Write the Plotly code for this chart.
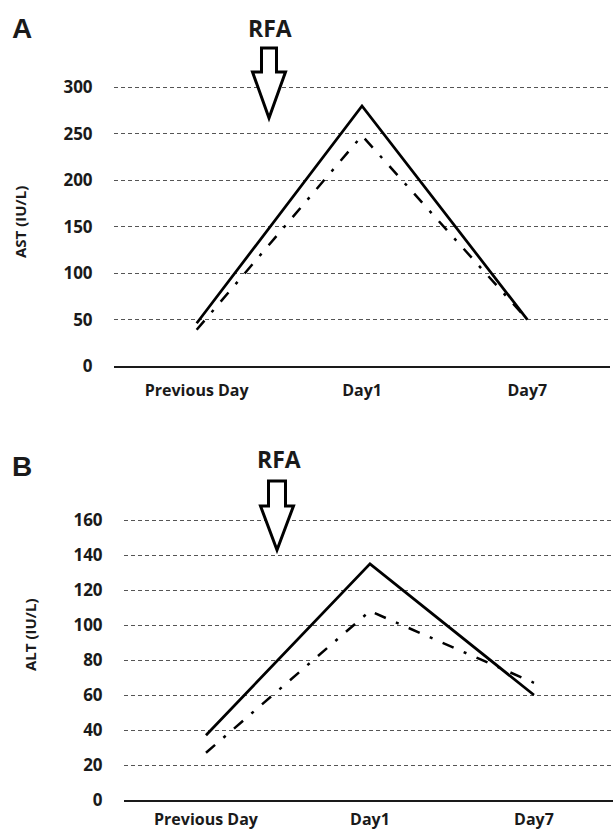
import plotly.graph_objects as go

# ---- data ----
categories = ["Previous Day", "Day1", "Day7"]
ast_solid = [46, 280, 50]
ast_dashdot = [39, 248, 50]
alt_solid = [37, 135, 60]
alt_dashdot = [27, 108, 67]
ast_ticks = [0, 50, 100, 150, 200, 250, 300]
alt_ticks = [0, 20, 40, 60, 80, 100, 120, 140, 160]

W, H = 613, 833
def px(x):
    return x / W
def py(y):
    return 1 - y / H

FONT = "Open Sans"
XTICKFONT = dict(family=FONT, size=16, color="#1a1a1a", weight="bold")
YTICKFONT = dict(family=FONT, size=17, color="#1a1a1a", weight="bold")
DASHDOT = "12px,11px,3px,11px"

fig = go.Figure()
fig.add_trace(go.Scatter(x=categories, y=ast_solid, mode="lines",
                         line=dict(color="black", width=2.75), xaxis="x", yaxis="y", showlegend=False))
fig.add_trace(go.Scatter(x=categories, y=ast_dashdot, mode="lines",
                         line=dict(color="black", width=2.5, dash=DASHDOT), xaxis="x", yaxis="y", showlegend=False))
fig.add_trace(go.Scatter(x=categories, y=alt_solid, mode="lines",
                         line=dict(color="black", width=2.75), xaxis="x2", yaxis="y2", showlegend=False))
fig.add_trace(go.Scatter(x=categories, y=alt_dashdot, mode="lines",
                         line=dict(color="black", width=2.5, dash=DASHDOT), xaxis="x2", yaxis="y2", showlegend=False))

xcommon = dict(type="category", showgrid=False, zeroline=False, showline=True,
               linecolor="#1a1a1a", linewidth=2, ticks="outside",
               tickcolor="rgba(0,0,0,0)", tickfont=XTICKFONT, fixedrange=True,
               automargin=False)
ycommon = dict(showgrid=True, gridcolor="#555555", gridwidth=1, griddash="4px,3px",
               zeroline=False, showline=False, ticks="outside", ticklen=17,
               tickcolor="rgba(0,0,0,0)", tickfont=YTICKFONT, fixedrange=True,
               automargin=False)

fig.update_layout(
    template="none",
    width=W, height=H, autosize=False,
    margin=dict(l=0, r=0, t=0, b=0, pad=0),
    paper_bgcolor="white", plot_bgcolor="white",
    xaxis=dict(**xcommon, ticklen=9, domain=[px(114), px(610)], range=[-0.5, 2.5], anchor="y"),
    yaxis=dict(**ycommon, domain=[py(366), py(86)], range=[0, 301.5],
               tickvals=ast_ticks, anchor="x"),
    xaxis2=dict(**xcommon, ticklen=4, domain=[px(124), 1], range=[-0.5, 2.482], anchor="y2"),
    yaxis2=dict(**ycommon, domain=[py(800), py(518)], range=[0, 161.2],
                tickvals=alt_ticks, anchor="x2"),
)

def label(text, x, y, size, family=FONT, angle=0):
    return dict(text=text, x=px(x), y=py(y), xref="paper", yref="paper", showarrow=False,
                xanchor="center", yanchor="middle", textangle=angle,
                font=dict(family=family, size=size, color="#1a1a1a", weight="bold"))

ann = [
    label("A", 22, 28.5, 28, family="Liberation Sans"),
    label("B", 22, 466, 28, family="Liberation Sans"),
    label("RFA", 270, 28, 23),
    label("RFA", 278.5, 459.5, 23),
    label("AST (IU/L)", 20, 222, 15, angle=-90),
    label("ALT (IU/L)", 30, 635, 15, angle=-90),
]
fig.update_layout(annotations=ann)

def arrow_path(cx, top, shoulder, tip, shaft_half, head_half):
    pts = [(cx - shaft_half, top), (cx + shaft_half, top), (cx + shaft_half, shoulder),
           (cx + head_half, shoulder), (cx, tip), (cx - head_half, shoulder),
           (cx - shaft_half, shoulder)]
    return "M " + " L ".join(f"{px(a):.5f},{py(b):.5f}" for a, b in pts) + " Z"

shapes = [
    dict(type="path", xref="paper", yref="paper", path=arrow_path(269, 48, 72, 118, 7.5, 16.5),
         line=dict(color="black", width=3), fillcolor="white", layer="above"),
    dict(type="path", xref="paper", yref="paper", path=arrow_path(277, 481, 506, 550, 8.5, 16.5),
         line=dict(color="black", width=3), fillcolor="white", layer="above"),
]
fig.update_layout(shapes=shapes)

post = "document.body.style.margin='0';document.body.style.overflow='hidden';"
fig.write_html("out.html", config={"displayModeBar": False}, post_script=post)
